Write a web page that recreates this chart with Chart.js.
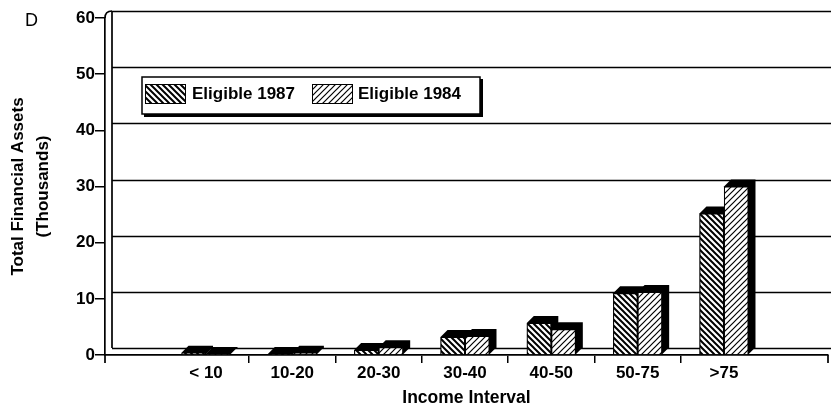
<!DOCTYPE html>
<html lang="en">
<head>
<meta charset="UTF-8">
<title>Total Financial Assets by Income Interval</title>
<script src="https://cdn.jsdelivr.net/npm/chart.js"></script>
<style>
  html, body { margin: 0; padding: 0; background: white; }
  #chart { display: block; }
</style>
</head>
<body>
<canvas id="chart" width="831" height="407"></canvas>
<script>
// Income intervals (thousands) and mean total financial assets (thousands)
const categories = ['< 10', '10-20', '20-30', '30-40', '40-50', '50-75', '>75'];
const eligible1987 = [0.4, 0.2, 0.9, 3.2, 5.7, 11.0, 25.2];
const eligible1984 = [0.2, 0.4, 1.4, 3.4, 4.6, 11.2, 30.0];
const yTicks = [0, 10, 20, 30, 40, 50, 60];

const FONT = 'Liberation Sans';
const DEPTH = 7; // 3D offset of the back wall and bar sides

const canvas = document.getElementById('chart');
const ctx = canvas.getContext('2d');

// hatch fill: 'back' = "\\\\", 'fwd' = "////"
function hatch(dir, lineWidth) {
    const s = 6;
    const c = document.createElement('canvas');
    c.width = s; c.height = s;
    const g = c.getContext('2d');
    g.fillStyle = '#fff';
    g.fillRect(0, 0, s, s);
    g.strokeStyle = '#000';
    g.lineWidth = lineWidth;
    g.beginPath();
    if (dir === 'back') {
        g.moveTo(-1, -1); g.lineTo(s + 1, s + 1);
        g.moveTo(-1, s - 1); g.lineTo(1, s + 1);
        g.moveTo(s - 1, -1); g.lineTo(s + 1, 1);
    } else {
        g.moveTo(-1, s + 1); g.lineTo(s + 1, -1);
        g.moveTo(-1, 1); g.lineTo(1, -1);
        g.moveTo(s - 1, s + 1); g.lineTo(s + 1, s - 1);
    }
    g.stroke();
    return ctx.createPattern(c, 'repeat');
}

// back wall, floor and the black extruded sides of the bars
const depthPlugin = {
    id: 'depth',
    beforeDatasetsDraw(chart) {
        const c = chart.ctx;
        const a = chart.chartArea;
        const y = chart.scales.y;
        c.save();
        c.strokeStyle = '#000';
        c.lineWidth = 1.7;
        yTicks.forEach(v => {
            const py = Math.round(y.getPixelForValue(v)) - DEPTH + 0.5;
            c.beginPath();
            c.moveTo(a.left + DEPTH, py);
            c.lineTo(chart.width, py);
            c.stroke();
        });
        c.beginPath();
        c.moveTo(a.left + DEPTH, y.getPixelForValue(0) - DEPTH);
        c.lineTo(a.left + DEPTH, y.getPixelForValue(60) - DEPTH);
        c.stroke();
        c.beginPath();
        c.moveTo(a.left, a.top);
        c.quadraticCurveTo(a.left, a.top - DEPTH, a.left + DEPTH, a.top - DEPTH);
        c.stroke();
        c.beginPath();
        c.moveTo(a.left, a.bottom);
        c.lineTo(a.left, a.bottom + 8);
        c.moveTo(a.right, a.bottom);
        c.lineTo(a.right, a.bottom + 8);
        c.stroke();

        c.fillStyle = '#000';
        chart.data.datasets.forEach((ds, i) => {
            chart.getDatasetMeta(i).data.forEach(bar => {
                const l = bar.x - bar.width / 2;
                const r = bar.x + bar.width / 2;
                const t = bar.y;
                const b = bar.base;
                c.beginPath();
                c.moveTo(l, t);
                c.lineTo(l + DEPTH, t - DEPTH);
                c.lineTo(r + DEPTH, t - DEPTH);
                c.lineTo(r + DEPTH, b - DEPTH);
                c.lineTo(r, b);
                c.lineTo(l, b);
                c.closePath();
                c.fill();
            });
        });
        c.restore();
    }
};

// boxed legend inside the plot and the panel letter
const legendBox = {
    id: 'legendBox',
    afterDraw(chart) {
        const c = chart.ctx;
        c.save();
        c.fillStyle = '#000';
        c.fillRect(144, 79, 339, 38);
        c.fillStyle = '#fff';
        c.fillRect(142, 77, 338, 37);
        c.strokeStyle = '#000';
        c.lineWidth = 1.5;
        c.strokeRect(142, 77, 338, 37);

        const items = [[145, 192], [312, 358]];
        c.font = 'bold 17px "' + FONT + '"';
        c.textBaseline = 'middle';
        c.textAlign = 'left';
        chart.data.datasets.forEach((ds, i) => {
            const [sx, tx] = items[i];
            c.fillStyle = ds.backgroundColor;
            c.fillRect(sx, 84, 40, 19);
            c.lineWidth = 1;
            c.strokeRect(sx + 0.5, 84.5, 40, 19);
            c.fillStyle = '#000';
            c.fillText(ds.label, tx, 94);
        });

        c.font = '18px "' + FONT + '"';
        c.textBaseline = 'alphabetic';
        c.fillText('D', 25, 26);
        c.restore();
    }
};

new Chart(ctx, {
    type: 'bar',
    data: {
        datasets: [
            {
                label: 'Eligible 1987',
                data: eligible1987.map((v, i) => ({ x: i, y: v })),
                backgroundColor: hatch('back', 2),
                borderColor: '#000',
                borderWidth: 1,
                categoryPercentage: 0.568,
                barPercentage: 1
            },
            {
                label: 'Eligible 1984',
                data: eligible1984.map((v, i) => ({ x: i, y: v })),
                backgroundColor: hatch('fwd', 1.2),
                borderColor: '#000',
                borderWidth: 1,
                categoryPercentage: 0.568,
                barPercentage: 1
            }
        ]
    },
    options: {
        responsive: false,
        animation: false,
        devicePixelRatio: 1,
        layout: { padding: { top: 18, right: 3, bottom: 0, left: 0 } },
        plugins: {
            legend: { display: false },
            tooltip: { enabled: false }
        },
        scales: {
            x: {
                type: 'linear',
                min: -1.17,
                max: 7.205,
                bounds: 'data',
                offset: false,
                afterBuildTicks: s => { s.ticks = categories.map((_, i) => ({ value: i })); },
                afterFit: s => { s.height = 52; },
                ticks: {
                    autoSkip: false,
                    maxRotation: 0,
                    minRotation: 0,
                    padding: 0,
                    color: '#000',
                    font: { family: FONT, size: 17, weight: 'bold' },
                    callback: v => categories[v]
                },
                grid: {
                    offset: true,
                    drawOnChartArea: false,
                    drawTicks: true,
                    tickLength: 8,
                    lineWidth: 1.5,
                    color: c => (c.type === 'tick' && c.index > 0) ? '#000' : 'rgba(0,0,0,0)'
                },
                border: { display: true, color: '#000', width: 1.7 },
                title: {
                    display: true,
                    text: 'Income Interval',
                    color: '#000',
                    font: { family: FONT, size: 17.5, weight: 'bold', lineHeight: 1 },
                    padding: 0
                }
            },
            y: {
                min: 0,
                max: 60,
                afterBuildTicks: s => { s.ticks = yTicks.map(v => ({ value: v })); },
                afterFit: s => { s.width = 105; },
                ticks: {
                    padding: 0,
                    color: '#000',
                    font: { family: FONT, size: 17, weight: 'bold' }
                },
                grid: {
                    drawOnChartArea: false,
                    drawTicks: true,
                    tickLength: 10,
                    lineWidth: 1.5,
                    color: '#000'
                },
                border: { display: true, color: '#000', width: 1.7 },
                title: {
                    display: true,
                    text: ['Total Financial Assets', '(Thousands)'],
                    color: '#000',
                    font: { family: FONT, size: 17, weight: 'bold', lineHeight: 1.45 },
                    padding: { top: 6, bottom: 0 }
                }
            }
        }
    },
    plugins: [depthPlugin, legendBox]
});
</script>
</body>
</html>
